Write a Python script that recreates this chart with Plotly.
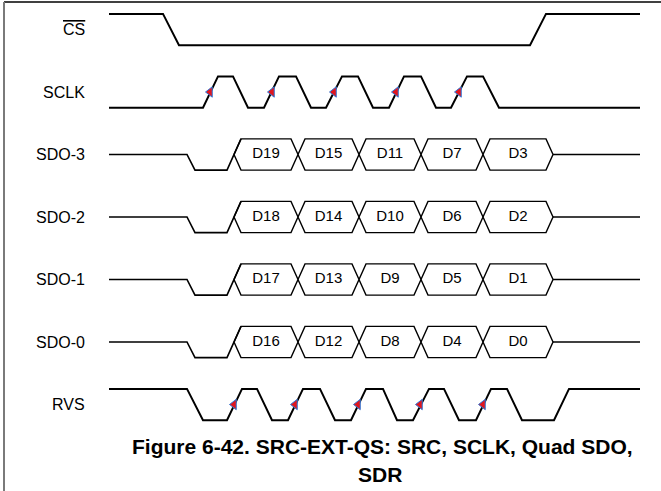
import plotly.graph_objects as go

# ---------------- data (times in drawing time units) ----------------
signal_names = ["<span style='text-decoration:overline'>CS</span>", "SCLK", "SDO-3", "SDO-2", "SDO-1", "SDO-0", "RVS"]

t_start, t_end = 109, 640

cs_t = [109, 163, 179, 530, 546, 640]
cs_v = [1, 1, 0, 0, 1, 1]

sclk_t = [109, 203, 218, 233, 248, 264, 279, 296, 311, 326, 342, 358, 373, 389, 404, 421, 436, 451, 467, 483, 499, 640]
sclk_v = [0, 0, 1, 1, 0, 0, 1, 1, 0, 0, 1, 1, 0, 0, 1, 1, 0, 0, 1, 1, 0, 0]

rvs_t = [109, 187, 203, 227, 242, 257, 272, 288, 303, 320, 335, 351, 366, 383, 397, 413, 429, 444, 459, 476, 491, 507, 522, 554, 569, 640]
rvs_v = [1, 1, 0, 0, 1, 1, 0, 0, 1, 1, 0, 0, 1, 1, 0, 0, 1, 1, 0, 0, 1, 1, 0, 0, 1, 1]

sclk_arrows = [210, 272, 334, 396, 459]
rvs_arrows = [234, 295, 358, 420, 483]

# bus (SDO) lead-in: mid -> low -> (rise into first cell)
sdo_lead_t = [109, 187, 195, 227, 241]
sdo_lead_v = [0.5, 0.5, 0, 0, 1]
sdo_bounds = [234, 298, 359, 421, 483, 553]
sdo_slant = 7
sdo_cells = {
    "SDO-3": ["D19", "D15", "D11", "D7", "D3"],
    "SDO-2": ["D18", "D14", "D10", "D6", "D2"],
    "SDO-1": ["D17", "D13", "D9", "D5", "D1"],
    "SDO-0": ["D16", "D12", "D8", "D4", "D0"],
}
sdo_rows = {"SDO-3": 2, "SDO-2": 3, "SDO-1": 4, "SDO-0": 5}

title_lines = ["Figure 6-42. SRC-EXT-QS: SRC, SCLK, Quad SDO,", "SDR"]

# ---------------- helpers ----------------
AMP = 0.25
ROW0, ROWH = 29.5, 62.5   # pixel centre of first row, row pitch


def lvl(row, v):
    # v: 1 high, 0 low, 0.5 mid
    return row + AMP - 2 * AMP * v


def py(pix):
    return (pix - ROW0) / ROWH


fig = go.Figure()


def add_wave(row, ts, vs, width=2):
    fig.add_trace(go.Scatter(x=ts, y=[lvl(row, v) for v in vs], mode="lines",
                             line=dict(color="black", width=width), hoverinfo="skip",
                             showlegend=False))


add_wave(0, cs_t, cs_v)
add_wave(1, sclk_t, sclk_v)
add_wave(6, rvs_t, rvs_v)

for name, row in sdo_rows.items():
    add_wave(row, sdo_lead_t, sdo_lead_v, width=1.6)
    xs, ys = [], []
    for b0, b1 in zip(sdo_bounds[:-1], sdo_bounds[1:]):
        px = [b0, b0 + sdo_slant, b1 - sdo_slant, b1, b1 - sdo_slant, b0 + sdo_slant, b0]
        pv = [0.5, 1, 1, 0.5, 0, 0, 0.5]
        xs += px + [None]
        ys += [lvl(row, v) for v in pv] + [None]
    fig.add_trace(go.Scatter(x=xs, y=ys, mode="lines", line=dict(color="black", width=1.4),
                             hoverinfo="skip", showlegend=False))
    add_wave(row, [sdo_bounds[-1], t_end], [0.5, 0.5], width=1.6)
    centers = [(a + b) / 2 for a, b in zip(sdo_bounds[:-1], sdo_bounds[1:])]
    fig.add_trace(go.Scatter(x=centers, y=[row] * len(centers), mode="text",
                             text=sdo_cells[name],
                             textfont=dict(family="Liberation Sans, Arial", size=15, color="black"),
                             hoverinfo="skip", showlegend=False))

for row, arr in [(1, sclk_arrows), (6, rvs_arrows)]:
    fig.add_trace(go.Scatter(x=arr, y=[row] * len(arr), mode="markers",
                             marker=dict(symbol="triangle-left", size=9, color="#e0161e",
                                         line=dict(color="#2f78d8", width=1)),
                             hoverinfo="skip", showlegend=False))

for i, name in enumerate(signal_names):
    fig.add_annotation(x=87, y=i, text=name, xanchor="right", yanchor="middle", showarrow=False,
                       font=dict(family="Liberation Sans, Arial", size=16, color="black"))

title_font = dict(family="Liberation Sans, Arial", size=21, color="black")
fig.add_annotation(x=382, y=py(446), text="<b>%s</b>" % title_lines[0], showarrow=False,
                   xanchor="center", yanchor="middle", font=title_font)
fig.add_annotation(x=380, y=py(474), text="<b>%s</b>" % title_lines[1], showarrow=False,
                   xanchor="center", yanchor="middle", font=title_font)

# frame
fig.add_shape(type="line", xref="x", yref="paper", x0=4, x1=661, y0=1 - 2 / 491, y1=1 - 2 / 491,
              line=dict(color="black", width=1.5))
fig.add_shape(type="line", xref="x", yref="paper", x0=4, x1=4, y0=0, y1=1 - 2 / 491,
              line=dict(color="#7a7a7a", width=2))

fig.update_layout(
    width=661, height=491, margin=dict(l=0, r=0, t=0, b=0),
    paper_bgcolor="white", plot_bgcolor="white",
    xaxis=dict(range=[0, 661], visible=False, fixedrange=True),
    yaxis=dict(range=[py(491), py(0)], visible=False, fixedrange=True),
    showlegend=False,
)

fig.write_html("out.html", config={"displayModeBar": False, "staticPlot": True},
               post_script="document.body.style.margin='0px';document.body.style.overflow='hidden';")
